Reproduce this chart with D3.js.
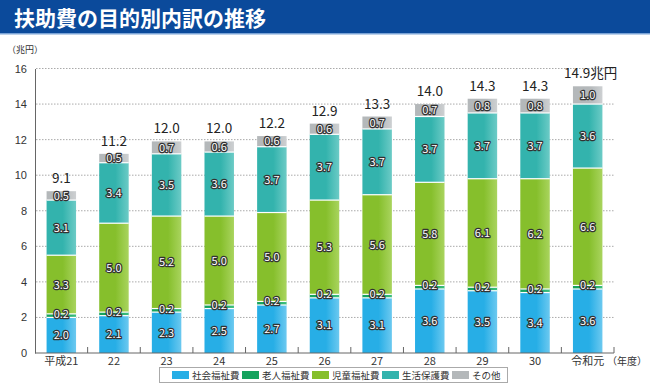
<!DOCTYPE html>
<html lang="ja">
<head>
<meta charset="UTF-8">
<title>扶助費の目的別内訳の推移</title>
<script src="https://d3js.org/d3.v7.min.js"></script>
<style>
  body { margin: 0; background: #fff; font-family: "Noto Sans CJK JP", "Noto Sans", sans-serif; }
  .seg-label { fill: #fff; stroke: #333; stroke-width: 2.4px; paint-order: stroke; stroke-linejoin: round; font-size: 11px; }
  .total { fill: #222; font-size: 13.5px; }
  .axis text { fill: #333; font-size: 11px; }
</style>
</head>
<body>
<svg id="canvas" width="650" height="386"></svg>
<script>
var years = ["平成21", "22", "23", "24", "25", "26", "27", "28", "29", "30", "令和元"];
var shakai = [2.0, 2.1, 2.3, 2.5, 2.7, 3.1, 3.1, 3.6, 3.5, 3.4, 3.6];
var rojin = [0.2, 0.2, 0.2, 0.2, 0.2, 0.2, 0.2, 0.2, 0.2, 0.2, 0.2];
var jido = [3.3, 5.0, 5.2, 5.0, 5.0, 5.3, 5.6, 5.8, 6.1, 6.2, 6.6];
var seikatsu = [3.1, 3.4, 3.5, 3.6, 3.7, 3.7, 3.7, 3.7, 3.7, 3.7, 3.6];
var sonota = [0.5, 0.5, 0.7, 0.6, 0.6, 0.6, 0.7, 0.7, 0.8, 0.8, 1.0];
var totals = ["9.1", "11.2", "12.0", "12.0", "12.2", "12.9", "13.3", "14.0", "14.3", "14.3", "14.9兆円"];
var seriesNames = ["社会福祉費", "老人福祉費", "児童福祉費", "生活保護費", "その他"];
var yTicks = [0, 2, 4, 6, 8, 10, 12, 14, 16];

var colors = ["#27aee6", "#16a35e", "#86bf2c", "#33b3ad", "#b4b8ba"];
var lightColors = ["#6cc9f0", "#3ebf80", "#a9d45e", "#6ccbc6", "#cdd0d2"];

var svg = d3.select("#canvas");

// title bar
svg.append("rect").attr("x", 0).attr("y", 0).attr("width", 650).attr("height", 33).attr("fill", "#0b4a9b");
svg.append("rect").attr("x", 0).attr("y", 33).attr("width", 650).attr("height", 1.5).attr("fill", "#7aa3d6");
svg.append("text").attr("x", 14).attr("y", 26)
    .attr("fill", "#fff").attr("font-size", "21px").attr("font-weight", "bold")
    .text("扶助費の目的別内訳の推移");

var x = d3.scaleBand().domain(years).range([35, 614]).paddingInner(0.44).paddingOuter(0.22);
var y = d3.scaleLinear().domain([0, 16]).range([353, 68.5]);

// gradients
var defs = svg.append("defs");
colors.forEach(function(c, i) {
    var g = defs.append("linearGradient").attr("id", "g" + i)
        .attr("x1", "0").attr("x2", "1").attr("y1", "0").attr("y2", "0");
    g.append("stop").attr("offset", "0").attr("stop-color", c);
    g.append("stop").attr("offset", "0.55").attr("stop-color", c);
    g.append("stop").attr("offset", "1").attr("stop-color", lightColors[i]);
});

// grid lines
svg.append("g").selectAll("line")
    .data(yTicks.filter(function(d) { return d > 0; }))
    .enter().append("line")
    .attr("x1", 36).attr("x2", 614)
    .attr("y1", function(d) { return y(d); }).attr("y2", function(d) { return y(d); })
    .attr("stroke", "#aaa").attr("stroke-dasharray", "1.5,1.5").attr("stroke-width", 1);

// y axis
var yAxis = svg.append("g").attr("class", "axis").attr("transform", "translate(35,0)")
    .call(d3.axisLeft(y).tickValues(yTicks).tickSize(0).tickPadding(8));
yAxis.select(".domain").attr("stroke", "#666");

// stacked bars
var rows = years.map(function(yr, i) {
    return { year: yr, s0: shakai[i], s1: rojin[i], s2: jido[i], s3: seikatsu[i], s4: sonota[i] };
});
var stack = d3.stack().keys(["s0", "s1", "s2", "s3", "s4"]);
var layers = stack(rows);

layers.forEach(function(layer, li) {
    var g = svg.append("g");
    g.selectAll("rect").data(layer).enter().append("rect")
        .attr("x", function(d) { return x(d.data.year); })
        .attr("width", x.bandwidth())
        .attr("y", function(d) { return y(d[1]); })
        .attr("height", function(d) { return y(d[0]) - y(d[1]); })
        .attr("fill", "url(#g" + li + ")");
});

// white separators
layers.forEach(function(layer, li) {
    if (li === 0) return;
    svg.append("g").selectAll("line").data(layer).enter().append("line")
        .attr("x1", function(d) { return x(d.data.year); })
        .attr("x2", function(d) { return x(d.data.year) + x.bandwidth(); })
        .attr("y1", function(d) { return y(d[0]); })
        .attr("y2", function(d) { return y(d[0]); })
        .attr("stroke", "#fff").attr("stroke-width", 1.2);
});

// segment labels
layers.forEach(function(layer, li) {
    svg.append("g").selectAll("text").data(layer).enter().append("text")
        .attr("class", "seg-label")
        .attr("text-anchor", "middle")
        .attr("x", function(d) { return x(d.data.year) + x.bandwidth() / 2; })
        .attr("y", function(d) {
            if (li === 1) return y(d[1]) + 4;
            return y((d[0] + d[1]) / 2) + 4;
        })
        .text(function(d) { return (d[1] - d[0]).toFixed(1); });
});

// totals
svg.append("g").selectAll("text").data(layers[4]).enter().append("text")
    .attr("class", "total")
    .attr("text-anchor", "middle")
    .attr("x", function(d, i) { return x(d.data.year) + x.bandwidth() / 2 + (i === 10 ? 3 : 0); })
    .attr("y", function(d) { return y(d[1]) - 8; })
    .text(function(d, i) { return totals[i]; });

// x axis
var xg = svg.append("g").attr("class", "axis");
xg.append("line").attr("x1", 35).attr("x2", 614).attr("y1", 353).attr("y2", 353).attr("stroke", "#666");
var step = x.step();
var tickXs = years.map(function(d) { return x(d) + x.bandwidth() / 2 + step / 2; });
xg.selectAll("line.tk").data(tickXs).enter().append("line").attr("class", "tk")
    .attr("x1", function(d) { return d; }).attr("x2", function(d) { return d; })
    .attr("y1", 353).attr("y2", 347).attr("stroke", "#666");
xg.selectAll("text").data(years).enter().append("text")
    .attr("text-anchor", "middle")
    .attr("x", function(d) { return x(d) + x.bandwidth() / 2; })
    .attr("y", 365)
    .text(function(d) { return d; });
svg.append("text").attr("x", 627).attr("y", 365).attr("text-anchor", "middle")
    .attr("font-size", "10px").attr("fill", "#333").text("（年度）");
svg.append("text").attr("x", 7).attr("y", 53)
    .attr("font-size", "9px").attr("fill", "#333").text("（兆円）");

// legend
svg.append("rect").attr("x", 159.5).attr("y", 367.5).attr("width", 348).attr("height", 15)
    .attr("fill", "#fff").attr("stroke", "#aaa");
var lg = svg.append("g").selectAll("g").data(seriesNames).enter().append("g")
    .attr("transform", function(d, i) { return "translate(" + (172 + i * 70) + ",371)"; });
lg.append("rect").attr("width", 17).attr("height", 8)
    .attr("fill", function(d, i) { return colors[i]; });
lg.append("text").attr("x", 20).attr("y", 8).attr("font-size", "9.5px").attr("fill", "#333")
    .text(function(d) { return d; });
</script>
</body>
</html>
